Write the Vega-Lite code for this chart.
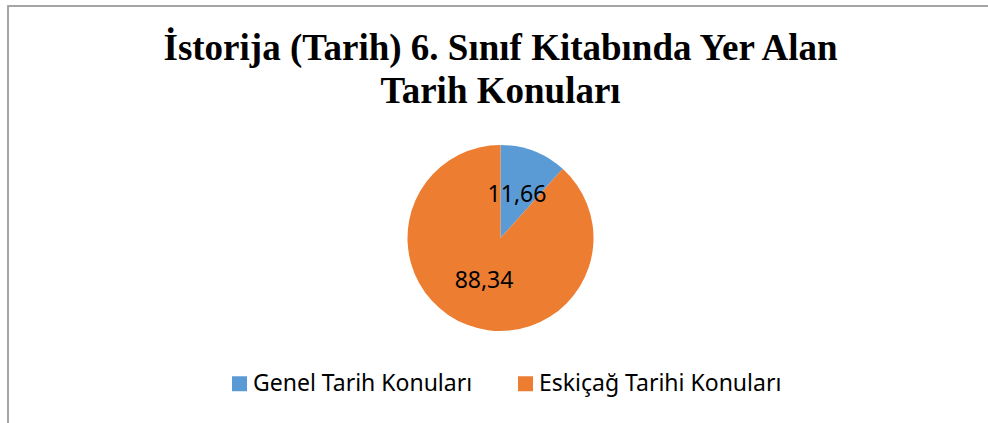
{
  "$schema": "https://vega.github.io/schema/vega-lite/v6.json",
  "autosize": {"type": "none"},
  "padding": {"left": 8, "top": 6, "right": 0, "bottom": 0},
  "width": 985,
  "height": 464,
  "background": "white",
  "title": {
    "text": ["İstorija (Tarih) 6. Sınıf Kitabında Yer Alan", "Tarih Konuları"],
    "font": "Liberation Serif",
    "fontSize": 37,
    "fontWeight": "bold",
    "color": "black",
    "anchor": "middle",
    "frame": "group",
    "baseline": "top",
    "lineHeight": 43,
    "offset": -106
  },
  "data": {
    "values": [
      {"konu": "Genel Tarih Konuları", "deger": 11.66, "etiket": "11,66", "sira": 1},
      {"konu": "Eskiçağ Tarihi Konuları", "deger": 88.34, "etiket": "88,34", "sira": 2}
    ]
  },
  "layer": [
    {
      "mark": {"type": "rect", "fill": null, "fillOpacity": 0, "stroke": "#a0a0a0", "strokeWidth": 1.5},
      "encoding": {}
    },
    {
      "mark": {"type": "arc", "outerRadius": 93},
      "encoding": {
        "theta": {"field": "deger", "type": "quantitative", "stack": true},
        "order": {"field": "sira", "type": "quantitative"},
        "color": {
          "field": "konu",
          "type": "nominal",
          "sort": ["Genel Tarih Konuları", "Eskiçağ Tarihi Konuları"],
          "scale": {"domain": ["Genel Tarih Konuları", "Eskiçağ Tarihi Konuları"], "range": ["#5b9bd5", "#ed7d31"]},
          "legend": {
            "orient": "none",
            "direction": "horizontal",
            "legendX": 220,
            "legendY": 366,
            "title": null,
            "symbolType": "square",
            "symbolSize": 225,
            "symbolStrokeWidth": 0,
            "labelFont": "Noto Sans",
            "labelFontSize": 23,
            "labelColor": "#000000",
            "labelOffset": 2,
            "columnPadding": 41,
            "labelLimit": 400
          }
        }
      }
    },
    {
      "mark": {"type": "text", "radius": 46, "font": "Noto Sans", "fontSize": 23, "baseline": "middle", "align": "center", "color": "black"},
      "encoding": {
        "theta": {"field": "deger", "type": "quantitative", "stack": true},
        "order": {"field": "sira", "type": "quantitative"},
        "text": {"field": "etiket", "type": "nominal"}
      }
    }
  ],
  "config": {
    "view": {"stroke": null}
  }
}
